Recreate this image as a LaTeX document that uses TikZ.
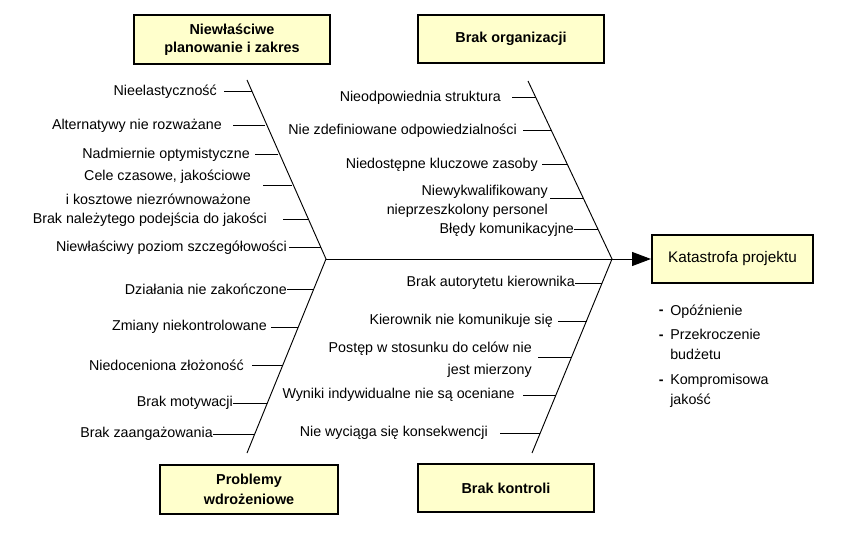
\documentclass[tikz,border=0pt]{standalone}
\usepackage{fontspec}
\setmainfont{Liberation Sans}
\usetikzlibrary{arrows.meta}
\definecolor{boxfill}{RGB}{255,255,204}
\tikzset{
  catbox/.style={draw=black, line width=1.5pt, fill=boxfill, align=center,
    font=\fontsize{10.8}{13}\selectfont\bfseries, inner sep=0pt},
  effbox/.style={draw=black, line width=1.5pt, fill=boxfill, align=center,
    font=\fontsize{11.5}{13.5}\selectfont, inner sep=0pt},
  lbl/.style={anchor=east, inner sep=0pt, align=right, font=\fontsize{10.7}{12.6}\selectfont},
  leg/.style={anchor=west, inner sep=0pt, align=left, font=\fontsize{10.7}{12.6}\selectfont},
  bone/.style={draw=black, line width=0.7pt},
  tick/.style={draw=black, line width=0.75pt},
}
\begin{document}
\begin{tikzpicture}[x=0.75pt, y=-0.75pt]
\useasboundingbox (0,0) rectangle (856,552);
\fill[white] (0,0) rectangle (856,552);

% category boxes
\node[catbox, minimum width=147pt, minimum height=36.75pt] (plan) at (232,39.5) {Niewłaściwe\\[0.4pt]planowanie i zakres};
\node[catbox, minimum width=139.5pt, minimum height=36pt] (org) at (511,39) {Brak organizacji};
\node[catbox, minimum width=133.5pt, minimum height=36.75pt] (wdr) at (249,489.5) {Problemy\\[2pt]wdrożeniowe};
\node[catbox, minimum width=132pt, minimum height=36pt] (ktr) at (506,488) {Brak kontroli};
\node[effbox, minimum width=120.75pt, minimum height=36pt] (kat) at (732.5,259) {Katastrofa projektu};

% skeleton
\coordinate (jl) at (326,259);
\coordinate (jr) at (612,259);
\coordinate (tl) at (247,80);
\coordinate (bl) at (247,453);
\coordinate (tr) at (528,81);
\coordinate (br) at (532,453);
\draw[bone] (tl) -- (jl) -- (bl);
\draw[bone] (tr) -- (jr) -- (br);
\draw[bone] (jl) -- (jr);
\draw[bone, -{Triangle[length=14.25pt, width=10.5pt]}] (jr) -- (kat.west);

% top-left causes
\node[lbl] (a1) at (217,92) {Nieelastyczność};
\node[lbl] (a2) at (222,126) {Alternatywy nie rozważane};
\node[lbl] (a3) at (250,155) {Nadmiernie optymistyczne};
\node[lbl] (a4) at (251,187) {Cele czasowe, jakościowe\\[5.4pt]i kosztowe niezrównoważone};
\node[lbl] (a5) at (267,220) {Brak należytego podejścia do jakości};
\node[lbl] (a6) at (287,248) {Niewłaściwy poziom szczegółowości};
\coordinate (ba1) at (252.3,92);
\coordinate (ba2) at (265,126);
\coordinate (ba3) at (278,155);
\coordinate (ba4) at (292,186);
\coordinate (ba5) at (307.5,220);
\coordinate (ba6) at (320.5,248);
\draw[tick] (a1.east) ++(7,0) -- (ba1);
\draw[tick] (a2.east) ++(11,0) -- (ba2);
\draw[tick] (a3.east) ++(5,0) -- (ba3);
\draw[tick] (a4.east) ++(12,-1) -- (ba4);
\draw[tick] (a5.east) ++(16,0) -- (ba5);
\draw[tick] (a6.east) ++(2,0) -- (ba6);

% bottom-left causes
\node[lbl] (b1) at (287,289) {Działania nie zakończone};
\node[lbl] (b2) at (267,327) {Zmiany niekontrolowane};
\node[lbl] (b3) at (244,365) {Niedoceniona złożoność};
\node[lbl] (b4) at (233,403) {Brak motywacji};
\node[lbl] (b5) at (213,434) {Brak zaangażowania};
\coordinate (bb1) at (313.8,289);
\coordinate (bb2) at (298.3,327);
\coordinate (bb3) at (282.9,365);
\coordinate (bb4) at (267.4,403);
\coordinate (bb5) at (254.8,434);
\draw[tick] (b1.east) -- (bb1);
\draw[tick] (b2.east) ++(4,0) -- (bb2);
\draw[tick] (b3.east) ++(8,0) -- (bb3);
\draw[tick] (b4.east) -- (bb4);
\draw[tick] (b5.east) -- (bb5);

% top-right causes
\node[lbl] (c1) at (501,98) {Nieodpowiednia struktura};
\node[lbl] (c2) at (517,131) {Nie zdefiniowane odpowiedzialności};
\node[lbl] (c3) at (538,165) {Niedostępne kluczowe zasoby};
\node[lbl] (c4) at (548,201.5) {Niewykwalifikowany\\[1.6pt]nieprzeszkolony personel};
\node[lbl] (c5) at (574,230) {Błędy komunikacyjne};
\coordinate (bc1) at (536,98);
\coordinate (bc2) at (551.6,131);
\coordinate (bc3) at (567.6,165);
\coordinate (bc4) at (583.7,199);
\coordinate (bc5) at (598.3,230);
\draw[tick] (c1.east) ++(11,0) -- (bc1);
\draw[tick] (c2.east) ++(6,0) -- (bc2);
\draw[tick] (c3.east) ++(4,0) -- (bc3);
\draw[tick] (c4.east) ++(2,-2.5) -- (bc4);
\draw[tick] (c5.east) -- (bc5);

% bottom-right causes
\node[lbl] (d1) at (575,283) {Brak autorytetu kierownika};
\node[lbl] (d2) at (553,321) {Kierownik nie komunikuje się};
\node[lbl] (d3) at (532,360) {Postęp w stosunku do celów nie\\[3.9pt]jest mierzony};
\node[lbl] (d4) at (515,395) {Wyniki indywidualne nie są oceniane};
\node[lbl] (d5) at (488,433) {Nie wyciąga się konsekwencji};
\coordinate (bd1) at (602.1,283);
\coordinate (bd2) at (586.5,321);
\coordinate (bd3) at (571.6,357);
\coordinate (bd4) at (556,395);
\coordinate (bd5) at (540.3,433);
\draw[tick] (d1.east) -- (bd1);
\draw[tick] (d2.east) ++(5,0) -- (bd2);
\draw[tick] (d3.east) ++(6,-3) -- (bd3);
\draw[tick] (d4.east) ++(8,0) -- (bd4);
\draw[tick] (d5.east) ++(12,0) -- (bd5);

% effect legend
\node[leg] (e1) at (670,312) {Opóźnienie};
\node[leg, anchor=north west] (e2) at (670,329) {Przekroczenie\\[2.4pt]budżetu};
\node[leg, anchor=north west] (e3) at (670,374) {Kompromisowa\\[2.4pt]jakość};
\node[leg, anchor=east, font=\fontsize{10.7}{12.6}\selectfont\bfseries] (m1) at (664,312) {-};
\node[leg, anchor=east, font=\fontsize{10.7}{12.6}\selectfont\bfseries] (m2) at (664,337) {-};
\node[leg, anchor=east, font=\fontsize{10.7}{12.6}\selectfont\bfseries] (m3) at (664,382) {-};
\end{tikzpicture}
\end{document}
